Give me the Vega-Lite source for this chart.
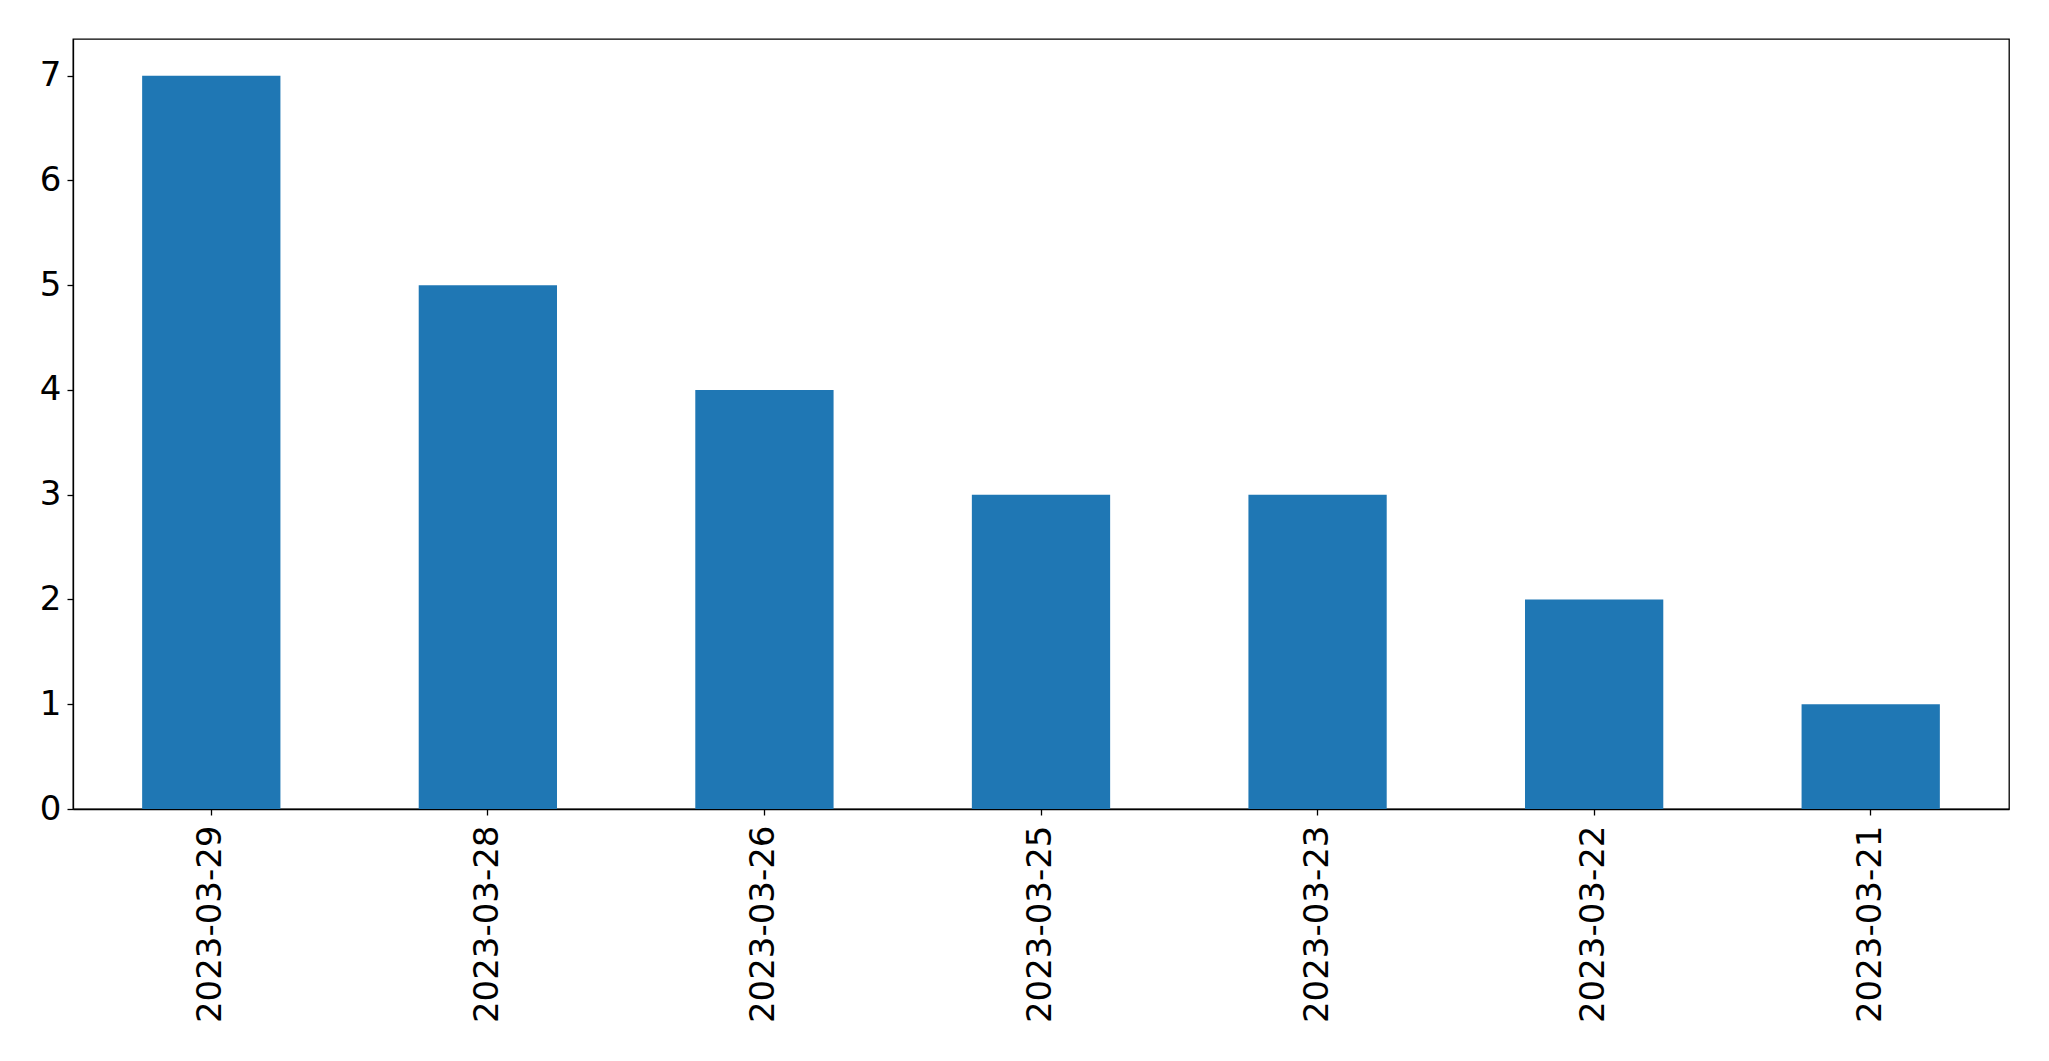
{
  "$schema": "https://vega.github.io/schema/vega-lite/v6.json",
  "width": 1936,
  "height": 770,
  "autosize": {"type": "none"},
  "padding": {"left": 73, "top": 39, "right": 40, "bottom": 252},
  "background": "white",
  "config": {
    "view": {"stroke": "black", "strokeWidth": 1.3},
    "axis": {
      "labelFont": "DejaVu Sans",
      "labelFontSize": 34,
      "labelColor": "black",
      "labelLimit": 0,
      "tickColor": "black",
      "tickWidth": 1.3,
      "tickSize": 6,
      "domainColor": "black",
      "domainWidth": 1.3,
      "grid": false,
      "title": null
    }
  },
  "data": {
    "values": [
      {"date": "2023-03-29", "count": 7},
      {"date": "2023-03-28", "count": 5},
      {"date": "2023-03-26", "count": 4},
      {"date": "2023-03-25", "count": 3},
      {"date": "2023-03-23", "count": 3},
      {"date": "2023-03-22", "count": 2},
      {"date": "2023-03-21", "count": 1}
    ]
  },
  "mark": {"type": "bar", "color": "#1f77b4"},
  "encoding": {
    "x": {
      "field": "date",
      "type": "nominal",
      "sort": null,
      "scale": {"paddingInner": 0.5, "paddingOuter": 0.25},
      "axis": {"labelAngle": -90, "labelAlign": "right", "labelBaseline": "middle", "labelPadding": 10}
    },
    "y": {
      "field": "count",
      "type": "quantitative",
      "scale": {"domain": [0, 7.35], "nice": false},
      "axis": {"values": [0, 1, 2, 3, 4, 5, 6, 7], "labelPadding": 6}
    }
  }
}
